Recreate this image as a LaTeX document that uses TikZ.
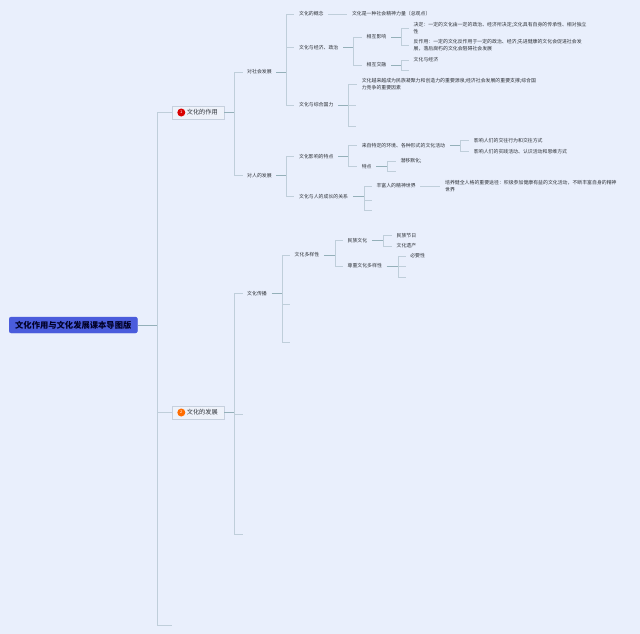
\documentclass[tikz,border=0pt]{standalone}
\usepackage{fontspec}
\setmainfont{Noto Sans CJK SC}
\usetikzlibrary{positioning}
\definecolor{pagebg}{HTML}{E9EFFC}
\definecolor{rootblue}{HTML}{4A5CDC}
\definecolor{linkgrey}{HTML}{BFCEDA}
\definecolor{stemgrey}{HTML}{94B0B9}
\definecolor{boxline}{HTML}{C6D0DE}
\definecolor{boxfill}{HTML}{EEF2FA}
\definecolor{inkgrey}{HTML}{2E3238}
\begin{document}
\begin{tikzpicture}
    \tikzstyle{roottopic} = [rectangle, rounded corners=2pt, fill=rootblue, draw=rootblue, text=black!85!blue, inner xsep=6pt, inner ysep=0pt, minimum height=16pt, font=\fontsize{8.3}{10}\selectfont\bfseries]
    \tikzstyle{topic} = [rectangle, fill=boxfill, draw=boxline, text=inkgrey, inner xsep=6pt, inner ysep=0pt, minimum height=13pt, font=\fontsize{6.2}{8}\selectfont]
    \tikzstyle{badge} = [circle, inner sep=0pt, minimum size=8pt, text=white, font=\fontsize{4}{4}\selectfont]
    \tikzstyle{leaf} = [rectangle, align=left, text=inkgrey, inner xsep=4.5pt, inner ysep=1pt, font=\fontsize{4.9}{7}\selectfont]
    \tikzstyle{link} = [draw=linkgrey, line width=0.7pt]
    \tikzstyle{stem} = [draw=stemgrey, line width=0.7pt]

    \fill[pagebg] (0pt,0pt) rectangle (640pt,-634pt);
    \useasboundingbox (0pt,0pt) rectangle (640pt,-634pt);

    % main branches
    \node (root) [roottopic, anchor=west] at (9pt,-325pt) {文化作用与文化发展课本导图版};
    \coordinate[right=20pt of root] (rootjoin);
    \node (effect) [topic, right=34pt of root, yshift=212.5pt] {\hspace{9pt}文化的作用};
    \node (growth) [topic, right=34pt of root, yshift=-87.5pt] {\hspace{9pt}文化的发展};
    \coordinate[right=34pt of root, yshift=-300pt] (rootend);
    \node (effectmark) [badge, fill=red!85!black, right=5.5pt of effect.west] {1};
    \node (growthmark) [badge, fill=orange!85!red, right=5.5pt of growth.west] {2};
    \draw[stem] (root) -- (rootjoin);
    \draw[link] (rootjoin) |- (effect);
    \draw[link] (rootjoin) |- (growth);
    \draw[link] (rootjoin) |- (rootend);

    % effect
    \coordinate[right=10pt of effect] (effectjoin);
    \node (society) [leaf, right=18.5pt of effect, yshift=40.5pt] {对社会发展};
    \node (person) [leaf, right=18.5pt of effect, yshift=-63pt] {对人的发展};
    \draw[stem] (effect) -- (effectjoin);
    \draw[link] (effectjoin) |- (society);
    \draw[link] (effectjoin) |- (person);

    % society
    \coordinate[right=10pt of society] (societyjoin);
    \node (concept) [leaf, right=18pt of society, yshift=58pt] {文化的概念};
    \node (econ) [leaf, right=18pt of society, yshift=24.5pt] {文化与经济、政治};
    \node (power) [leaf, right=18pt of society, yshift=-33pt] {文化与综合国力};
    \draw[stem] (society) -- (societyjoin);
    \draw[link] (societyjoin) |- (concept);
    \draw[link] (societyjoin) |- (econ);
    \draw[link] (societyjoin) |- (power);

    \node (conceptnote) [leaf, right=19pt of concept] {文化是一种社会精神力量（总观点）};
    \draw[link] (concept) -- (conceptnote);

    \coordinate[right=10pt of econ] (econjoin);
    \node (mutual) [leaf, right=19pt of econ, yshift=10.5pt] {相互影响};
    \node (blend) [leaf, right=19pt of econ, yshift=-17.5pt] {相互交融};
    \draw[stem] (econ) -- (econjoin);
    \draw[link] (econjoin) |- (mutual);
    \draw[link] (econjoin) |- (blend);

    \coordinate[right=10pt of mutual] (mutualjoin);
    \node (decide) [leaf, right=18pt of mutual, yshift=8.5pt] {决定：一定的文化由一定的政治、经济所决定;文化具有自身的传承性、相对独立\\性};
    \node (react) [leaf, right=18pt of mutual, yshift=-8.5pt] {反作用：一定的文化反作用于一定的政治、经济;先进健康的文化会促进社会发\\展，落后腐朽的文化会阻碍社会发展};
    \draw[stem] (mutual) -- (mutualjoin);
    \draw[link] (mutualjoin) |- (decide);
    \draw[link] (mutualjoin) |- (react);

    \coordinate[right=10pt of blend] (blendjoin);
    \node (blendnote) [leaf, right=18pt of blend, yshift=5pt] {文化与经济};
    \coordinate[right=18pt of blend, yshift=-5pt] (blendend);
    \draw[stem] (blend) -- (blendjoin);
    \draw[link] (blendjoin) |- (blendnote);
    \draw[link] (blendjoin) |- (blendend);

    \coordinate[right=10pt of power] (powerjoin);
    \node (source) [leaf, right=19pt of power, yshift=20.5pt] {文化越来越成为民族凝聚力和创造力的重要源泉;经济社会发展的重要支撑;综合国\\力竞争的重要因素};
    \coordinate[right=18pt of power] (powermid);
    \coordinate[right=18pt of power, yshift=-21pt] (powerend);
    \draw[stem] (power) -- (powerjoin);
    \draw[link] (powerjoin) |- (source);
    \draw[link] (powerjoin) -- (powermid);
    \draw[link] (powerjoin) |- (powerend);

    % person
    \coordinate[right=10pt of person] (personjoin);
    \node (trait) [leaf, right=18pt of person, yshift=19pt] {文化影响的特点};
    \node (relation) [leaf, right=18pt of person, yshift=-21pt] {文化与人的成长的关系};
    \draw[stem] (person) -- (personjoin);
    \draw[link] (personjoin) |- (trait);
    \draw[link] (personjoin) |- (relation);

    \coordinate[right=10pt of trait] (traitjoin);
    \node (origin) [leaf, right=19pt of trait, yshift=11pt] {来自特定的环境、各种形式的文化活动};
    \node (feature) [leaf, right=19pt of trait, yshift=-10pt] {特点};
    \draw[stem] (trait) -- (traitjoin);
    \draw[link] (traitjoin) |- (origin);
    \draw[link] (traitjoin) |- (feature);

    \coordinate[right=11pt of origin] (originjoin);
    \node (contact) [leaf, right=19.5pt of origin, yshift=5pt] {影响人们的交往行为和交往方式};
    \node (practice) [leaf, right=19.5pt of origin, yshift=-6pt] {影响人们的实践活动、认识活动和思维方式};
    \draw[stem] (origin) -- (originjoin);
    \draw[link] (originjoin) |- (contact);
    \draw[link] (originjoin) |- (practice);

    \coordinate[right=11pt of feature] (featurejoin);
    \node (subtle) [leaf, right=19.5pt of feature, yshift=5.5pt] {潜移默化;};
    \coordinate[right=19.5pt of feature, yshift=-4.5pt] (featureend);
    \draw[stem] (feature) -- (featurejoin);
    \draw[link] (featurejoin) |- (subtle);
    \draw[link] (featurejoin) |- (featureend);

    \coordinate[right=11.5pt of relation] (relationjoin);
    \node (spirit) [leaf, right=19pt of relation, yshift=10.5pt] {丰富人的精神世界};
    \coordinate[right=19pt of relation, yshift=-3.5pt] (relationmid);
    \coordinate[right=19pt of relation, yshift=-14pt] (relationend);
    \draw[stem] (relation) -- (relationjoin);
    \draw[link] (relationjoin) |- (spirit);
    \draw[link] (relationjoin) |- (relationmid);
    \draw[link] (relationjoin) |- (relationend);

    \node (path) [leaf, right=20pt of spirit] {培养健全人格的重要途径：积极参加健康有益的文化活动，不断丰富自身的精神\\世界};
    \draw[link] (spirit) -- (path);

    % growth
    \coordinate[right=10pt of growth] (growthjoin);
    \node (spread) [leaf, right=18.5pt of growth, yshift=119pt] {文化传播};
    \coordinate[right=19pt of growth, yshift=-1.5pt] (growthmid);
    \coordinate[right=19pt of growth, yshift=-121.5pt] (growthend);
    \draw[stem] (growth) -- (growthjoin);
    \draw[link] (growthjoin) |- (spread);
    \draw[link] (growthjoin) |- (growthmid);
    \draw[link] (growthjoin) |- (growthend);

    \coordinate[right=11pt of spread] (spreadjoin);
    \node (variety) [leaf, right=18.5pt of spread, yshift=38.5pt] {文化多样性};
    \coordinate[right=18pt of spread, yshift=-10.5pt] (spreadmid);
    \coordinate[right=18pt of spread, yshift=-48.5pt] (spreadend);
    \draw[stem] (spread) -- (spreadjoin);
    \draw[link] (spreadjoin) |- (variety);
    \draw[link] (spreadjoin) |- (spreadmid);
    \draw[link] (spreadjoin) |- (spreadend);

    \coordinate[right=11pt of variety] (varietyjoin);
    \node (nation) [leaf, right=19pt of variety, yshift=14.5pt] {民族文化};
    \node (respect) [leaf, right=19pt of variety, yshift=-11pt] {尊重文化多样性};
    \draw[stem] (variety) -- (varietyjoin);
    \draw[link] (varietyjoin) |- (nation);
    \draw[link] (varietyjoin) |- (respect);

    \coordinate[right=11.5pt of nation] (nationjoin);
    \node (festival) [leaf, right=20pt of nation, yshift=5pt] {民族节日};
    \node (heritage) [leaf, right=20pt of nation, yshift=-5.5pt] {文化遗产};
    \draw[stem] (nation) -- (nationjoin);
    \draw[link] (nationjoin) |- (festival);
    \draw[link] (nationjoin) |- (heritage);

    \coordinate[right=11.5pt of respect] (respectjoin);
    \node (need) [leaf, right=19pt of respect, yshift=10pt] {必要性};
    \coordinate[right=19pt of respect] (respectmid);
    \coordinate[right=19pt of respect, yshift=-11pt] (respectend);
    \draw[stem] (respect) -- (respectjoin);
    \draw[link] (respectjoin) |- (need);
    \draw[link] (respectjoin) -- (respectmid);
    \draw[link] (respectjoin) |- (respectend);
\end{tikzpicture}
\end{document}
